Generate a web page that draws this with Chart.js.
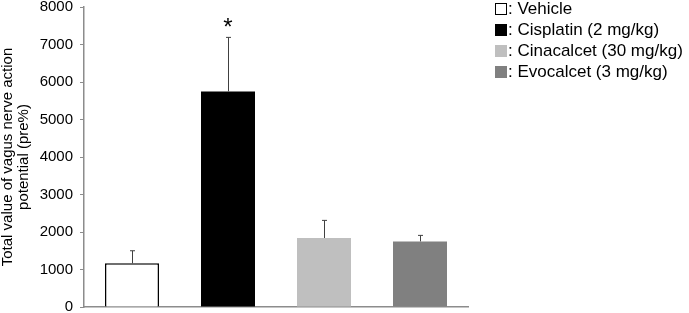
<!DOCTYPE html>
<html>
<head>
<meta charset="utf-8">
<script src="https://cdn.jsdelivr.net/npm/chart.js@4"></script>
<style>
  body { margin: 0; background: #fff; }
  #wrap { position: relative; width: 689px; height: 313px; }
  #legend { position: absolute; left: 495px; top: -2px; font-family: Arial, "Liberation Sans", sans-serif; font-size: 17px; color: #000; }
  #legend div { height: 21px; line-height: 21px; white-space: nowrap; }
  #legend span.box { display: inline-block; width: 12px; height: 12px; box-sizing: border-box; vertical-align: -1px; margin-right: 1px; }
</style>
</head>
<body>
<div id="wrap">
  <canvas id="my-Nerve-Chart" width="689" height="313"></canvas>
  <div id="legend"></div>
</div>
<script>
// data
const groups = ['Vehicle', 'Cisplatin (2 mg/kg)', 'Cinacalcet (30 mg/kg)', 'Evocalcet (3 mg/kg)'];
const means = [1165, 5750, 1840, 1750];
const errors = [335, 1440, 470, 160];
const marks = ['', '*', '', ''];

const fills = ['#ffffff', '#000000', '#bfbfbf', '#808080'];
const borders = ['#000000', '#000000', '#bfbfbf', '#808080'];

const fontFamily = 'Arial, "Liberation Sans", sans-serif';

// legend
const legend = document.getElementById('legend');
groups.forEach((g, i) => {
    const row = document.createElement('div');
    const box = document.createElement('span');
    box.className = 'box';
    box.style.background = fills[i];
    box.style.border = '1px solid ' + borders[i];
    row.appendChild(box);
    row.appendChild(document.createTextNode(': ' + g));
    legend.appendChild(row);
});

// error bars + asterisk
const errorBarPlugin = {
    id: 'errorBars',
    afterDatasetsDraw(chart) {
        const ctx = chart.ctx;
        const y = chart.scales.y;
        const meta = chart.getDatasetMeta(0);
        ctx.save();
        ctx.strokeStyle = '#404040';
        ctx.lineWidth = 1;
        meta.data.forEach((bar, i) => {
            const x = Math.round(bar.x) + 0.5;
            const top = y.getPixelForValue(means[i] + errors[i]);
            const base = y.getPixelForValue(means[i]);
            ctx.beginPath();
            ctx.moveTo(x, base);
            ctx.lineTo(x, top);
            ctx.moveTo(x - 2.5, top);
            ctx.lineTo(x + 2.5, top);
            ctx.stroke();
            if (marks[i]) {
                ctx.fillStyle = '#000';
                ctx.font = '24px ' + fontFamily;
                ctx.textAlign = 'center';
                ctx.textBaseline = 'alphabetic';
                ctx.fillText(marks[i], bar.x, top - 2);
            }
        });
        ctx.restore();
    }
};

const ctx = document.getElementById('my-Nerve-Chart').getContext('2d');
new Chart(ctx, {
    type: 'bar',
    data: {
        labels: groups,
        datasets: [{
            data: means,
            backgroundColor: fills,
            borderColor: borders,
            borderWidth: [1.5, 0, 0, 0],
            categoryPercentage: 1,
            barPercentage: 0.5625
        }]
    },
    options: {
        responsive: false,
        animation: false,
        layout: { padding: { top: 7, right: 221, bottom: 6, left: 0 } },
        plugins: {
            legend: { display: false },
            tooltip: { enabled: false }
        },
        scales: {
            x: {
                ticks: { display: false },
                grid: { display: false },
                border: { color: '#8c8c8c', width: 1.5 },
                afterFit(scale) { scale.height = 0; }
            },
            y: {
                min: 0,
                max: 8000,
                afterFit(scale) {
                    scale.width = 84;
                    scale.paddingTop = 0;
                    scale.paddingBottom = 0;
                },
                ticks: {
                    stepSize: 1000,
                    color: '#000',
                    padding: 7,
                    callback: (v) => String(v),
                    font: { family: fontFamily, size: 15 }
                },
                grid: { drawOnChartArea: false, tickLength: 4, color: '#8c8c8c' },
                border: { color: '#8c8c8c', width: 1.5 },
                title: {
                    display: true,
                    text: ['Total value of vagus nerve action', 'potential (pre%)'],
                    color: '#000',
                    padding: { top: 0, bottom: 0 },
                    font: { family: fontFamily, size: 15, lineHeight: 1.07 }
                }
            }
        }
    },
    plugins: [errorBarPlugin]
});
</script>
</body>
</html>
